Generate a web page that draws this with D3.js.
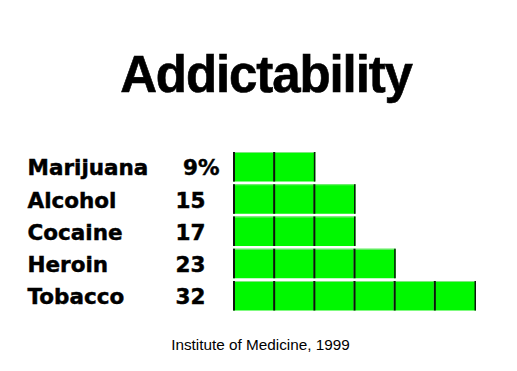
<!DOCTYPE html>
<html>
<head>
<meta charset="utf-8">
<script src="https://cdn.jsdelivr.net/npm/d3@7"></script>
<style>
  html, body { margin: 0; padding: 0; background: #fff; }
  svg { display: block; }
</style>
</head>
<body>
<script>
// ---- data ----
const categories = ["Marijuana", "Alcohol", "Cocaine", "Heroin", "Tobacco"];
const values = [9, 15, 17, 23, 32];
const blockCounts = [2, 3, 3, 4, 6];
const titleText = "Addictability";
const sourceText = "Institute of Medicine, 1999";

const W = 517, H = 371;
const svg = d3.select("body").append("svg").attr("width", W).attr("height", H);
svg.append("rect").attr("width", W).attr("height", H).attr("fill", "#fff");

// scales
const y = d3.scaleBand().domain(categories).range([152, 310.5]).paddingInner(0.085).paddingOuter(0);
const x = d3.scaleLinear().domain([0, d3.max(blockCounts)]).range([233, 474]);

// title
svg.append("text")
  .attr("x", 266).attr("y", 92)
  .attr("text-anchor", "middle")
  .attr("font-family", "Liberation Sans, Arial, sans-serif")
  .attr("font-weight", "bold")
  .attr("font-size", 51)
  .attr("letter-spacing", -1.1)
  .attr("fill", "#000")
  .attr("stroke", "#000")
  .attr("stroke-width", 0.6)
  .text(titleText);

const rows = categories.map((c, i) => ({ cat: c, value: values[i], blocks: blockCounts[i], i }));

// labels
svg.selectAll("text.cat").data(rows).enter().append("text")
  .attr("class", "cat")
  .attr("x", 27.5)
  .attr("y", d => y(d.cat) + y.bandwidth() / 2 + 8.5)
  .attr("font-family", "DejaVu Sans, sans-serif")
  .attr("font-weight", "bold")
  .attr("font-size", 21.5)
  .attr("fill", "#000")
  .attr("stroke", "#000")
  .attr("stroke-width", 0.45)
  .text(d => d.cat);

svg.selectAll("text.val").data(rows).enter().append("text")
  .attr("class", "val")
  .attr("x", 175.5)
  .attr("y", d => y(d.cat) + y.bandwidth() / 2 + 8.5)
  .attr("font-family", "DejaVu Sans, sans-serif")
  .attr("font-weight", "bold")
  .attr("font-size", 21.5)
  .attr("fill", "#000")
  .attr("stroke", "#000")
  .attr("stroke-width", 0.45)
  .text(d => d.i === 0 ? "\u00a0" + d.value + "%" : String(d.value));

// blocks
const blockData = [];
rows.forEach(r => { for (let k = 0; k < r.blocks; k++) blockData.push({ cat: r.cat, k, last: k === r.blocks - 1 }); });
const ext = d => d.last ? 2 : 0;

const g = svg.append("g");
g.selectAll("rect.block").data(blockData).enter().append("rect")
  .attr("class", "block")
  .attr("x", d => x(d.k))
  .attr("y", d => y(d.cat))
  .attr("width", d => x(d.k + 1) - x(d.k) + ext(d))
  .attr("height", y.bandwidth())
  .attr("fill", "#00f800");

// top highlight
g.selectAll("rect.hl").data(blockData).enter().append("rect")
  .attr("x", d => x(d.k))
  .attr("y", d => y(d.cat))
  .attr("width", d => x(d.k + 1) - x(d.k) + ext(d))
  .attr("height", 1)
  .attr("fill", "#7fe87f");

// dark left edges
g.selectAll("rect.edge").data(blockData).enter().append("rect")
  .attr("x", d => x(d.k))
  .attr("y", d => y(d.cat))
  .attr("width", 2)
  .attr("height", y.bandwidth())
  .attr("fill", "#0c160c");

// dark right edge of each row's last block
g.selectAll("rect.redge").data(blockData.filter(d => d.last)).enter().append("rect")
  .attr("x", d => x(d.k + 1) + 0.5)
  .attr("y", d => y(d.cat))
  .attr("width", 1.5)
  .attr("height", y.bandwidth())
  .attr("fill", "#0c160c");

// source
svg.append("text")
  .attr("x", 260.5).attr("y", 349.5)
  .attr("text-anchor", "middle")
  .attr("font-family", "Liberation Sans, Arial, sans-serif")
  .attr("font-size", 15.3)
  .attr("fill", "#000")
  .text(sourceText);
</script>
</body>
</html>
